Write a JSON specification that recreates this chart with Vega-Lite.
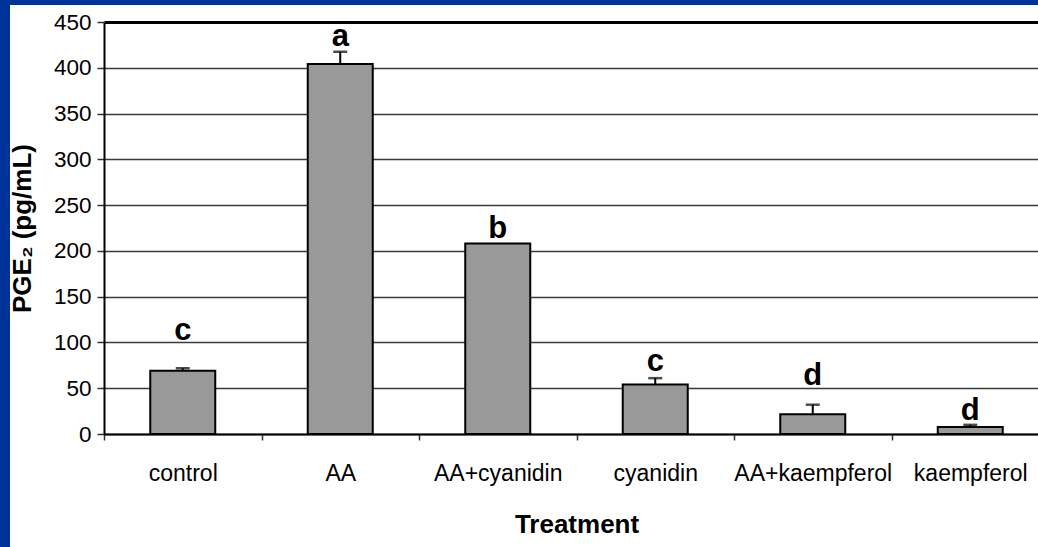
{
  "$schema": "https://vega.github.io/schema/vega-lite/v6.json",
  "width": 1028,
  "height": 542,
  "autosize": {"type": "none"},
  "padding": {"left": 10, "top": 5, "right": 0, "bottom": 0},
  "background": "#003399",
  "view": {"fill": "white", "stroke": null},
  "config": {"font": "Liberation Sans"},
  "data": {
    "values": [
      {"treatment": "control", "value": 69, "upper": 71.8, "letter": "c", "letterY": 103},
      {"treatment": "AA", "value": 404, "upper": 417.5, "letter": "a", "letterY": 424},
      {"treatment": "AA+cyanidin", "value": 208, "upper": 208, "letter": "b", "letterY": 214},
      {"treatment": "cyanidin", "value": 54, "upper": 61, "letter": "c", "letterY": 69},
      {"treatment": "AA+kaempferol", "value": 21.5, "upper": 32, "letter": "d", "letterY": 53.5},
      {"treatment": "kaempferol", "value": 7.6, "upper": 10, "letter": "d", "letterY": 15.3}
    ]
  },
  "encoding": {
    "x": {
      "field": "treatment",
      "type": "nominal",
      "sort": null,
      "scale": {"range": [94, 1039], "paddingInner": 0, "paddingOuter": 0},
      "axis": {
        "orient": "bottom",
        "offset": -113,
        "title": "Treatment",
        "titleFontSize": 26,
        "titleFontWeight": "bold",
        "titleColor": "black",
        "titlePadding": 26,
        "labelAngle": 0,
        "labelFontSize": 23,
        "labelColor": "black",
        "labelPadding": 22,
        "labelOverlap": false,
        "tickBand": "extent",
        "tickSize": 6,
        "tickWidth": 1.5,
        "tickColor": "#333333",
        "domain": true,
        "domainColor": "black",
        "domainWidth": 2,
        "grid": false
      }
    },
    "y": {
      "field": "value",
      "type": "quantitative",
      "scale": {"domain": [0, 450], "range": [429, 17], "nice": false, "zero": true},
      "axis": {
        "offset": -94,
        "values": [0, 50, 100, 150, 200, 250, 300, 350, 400, 450],
        "title": "PGE₂ (pg/mL)",
        "titleFontSize": 26,
        "titleFontWeight": "bold",
        "titleColor": "black",
        "titlePadding": 18,
        "labelFontSize": 22.5,
        "labelColor": "black",
        "labelPadding": 6,
        "tickSize": 7,
        "tickWidth": 1.5,
        "tickColor": "#333333",
        "domain": true,
        "domainColor": "black",
        "domainWidth": 2,
        "grid": true,
        "gridColor": {"condition": {"test": "datum.value === 450", "value": "black"}, "value": "#3a3a3a"},
        "gridWidth": {"condition": {"test": "datum.value === 450", "value": 3}, "value": 1.6}
      }
    }
  },
  "layer": [
    {
      "mark": {"type": "bar", "width": 65, "fill": "#999999", "stroke": "black", "strokeWidth": 2}
    },
    {
      "transform": [{"filter": "datum.upper > datum.value"}],
      "mark": {"type": "rule", "color": "black", "strokeWidth": 2},
      "encoding": {
        "y2": {"field": "upper"}
      }
    },
    {
      "transform": [{"filter": "datum.upper > datum.value"}],
      "mark": {"type": "tick", "orient": "horizontal", "size": 14, "thickness": 2.5, "color": "black"},
      "encoding": {
        "y": {"field": "upper", "type": "quantitative"}
      }
    },
    {
      "mark": {"type": "text", "fontSize": 31, "fontWeight": "bold", "baseline": "alphabetic", "color": "black"},
      "encoding": {
        "y": {"field": "letterY", "type": "quantitative"},
        "text": {"field": "letter"}
      }
    }
  ]
}
